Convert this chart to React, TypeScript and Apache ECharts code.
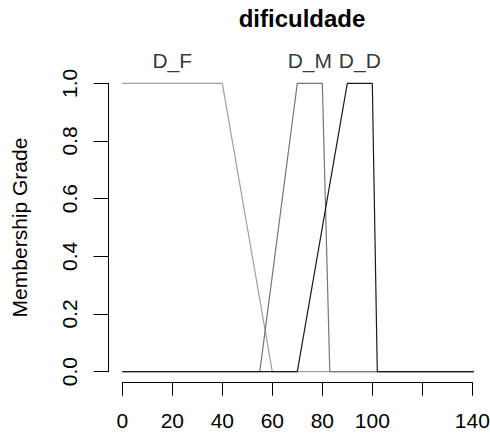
import React, { useEffect, useRef } from "react";
import * as echarts from "echarts";

const title = "dificuldade";
const yAxisName = "Membership Grade";
const xTickLabels = ["0", "20", "40", "60", "80", "100", "", "140"];
const seriesNames = ["D_F", "D_M", "D_D"];
const seriesColors = ["#a0a0a0", "#767676", "#1a1a1a"];
const dF: [number, number][] = [[0, 1], [40, 1], [60, 0], [144, 0]];
const dM: [number, number][] = [[0, 0], [55, 0], [70, 1], [80, 1], [83, 0], [144, 0]];
const dD: [number, number][] = [[0, 0], [70, 0], [90, 1], [100, 1], [102, 0], [144, 0]];
const labelX = [20, 75, 95];
const labelY = 1.078;

const FONT = "'Liberation Sans', Arial, Helvetica, sans-serif";

export default function App() {
  const ref = useRef<HTMLDivElement>(null);
  useEffect(() => {
    if (!ref.current) return;
    const chart = echarts.init(ref.current, undefined, { renderer: "svg" });
    const datasets = [dF, dM, dD];
    chart.setOption({
      animation: false,
      backgroundColor: "#ffffff",
      graphic: [
        {
          type: "text",
          x: 302,
          y: 18.5,
          style: {
            text: title,
            fontFamily: FONT,
            fontWeight: "bold",
            fontSize: 24,
            fill: "#000",
            textAlign: "center",
            textVerticalAlign: "middle",
          },
        },
      ],
      grid: {
        left: 122.3,
        right: 17.7,
        top: 83.3,
        bottom: 65.3,
        containLabel: false,
        outerBoundsMode: "none",
      },
      xAxis: {
        type: "value",
        min: 0,
        max: 140,
        interval: 20,
        offset: 10.5,
        splitLine: { show: false },
        axisLine: { show: true, onZero: false, lineStyle: { color: "#000", width: 1 } },
        axisTick: { show: true, length: 13.5, lineStyle: { color: "#000" } },
        axisLabel: {
          show: true,
          margin: 28,
          fontFamily: FONT,
          fontSize: 21,
          color: "#000",
          formatter: (v: number) => xTickLabels[Math.round(v / 20)] ?? "",
        },
      },
      yAxis: {
        type: "value",
        min: 0,
        max: 1,
        interval: 0.2,
        offset: 13.8,
        splitLine: { show: false },
        axisLine: { show: true, onZero: false, lineStyle: { color: "#000", width: 1 } },
        axisTick: { show: true, length: 15, lineStyle: { color: "#000" } },
        axisLabel: {
          show: true,
          rotate: 90,
          margin: 29,
          fontFamily: FONT,
          fontSize: 21,
          color: "#000",
          align: "center",
          verticalAlign: "bottom",
          formatter: (v: number) => v.toFixed(1),
        },
        name: yAxisName,
        nameLocation: "middle",
        nameRotate: 90,
        nameGap: 79,
        nameTextStyle: { fontFamily: FONT, fontSize: 21, color: "#000" },
      },
      series: [
        ...datasets.map((d, i) => ({
          type: "line",
          name: seriesNames[i],
          data: d,
          clip: false,
          symbol: "none",
          lineStyle: { color: seriesColors[i], width: 1.2 },
          z: 2 + i,
        })),
        {
          type: "scatter",
          symbolSize: 0,
          clip: false,
          data: seriesNames.map((n, i) => ({ value: [labelX[i], labelY], name: n })),
          label: {
            show: true,
            position: "inside",
            formatter: (p: any) => p.name,
            fontFamily: FONT,
            fontSize: 21,
            color: "#000",
          },
          z: 10,
        },
      ],
    });
    return () => chart.dispose();
  }, []);
  return <div ref={ref} style={{ width: 490, height: 437, position: "absolute", left: 0, top: 0 }} />;
}
